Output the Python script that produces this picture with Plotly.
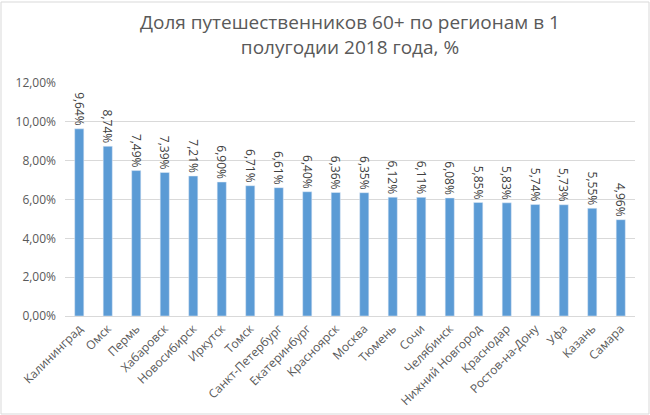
import plotly.graph_objects as go

regions = ['Калининград', 'Омск', 'Пермь', 'Хабаровск', 'Новосибирск', 'Иркутск', 'Томск',
           'Санкт-Петербург', 'Екатеринбург', 'Красноярск', 'Москва', 'Тюмень', 'Сочи',
           'Челябинск', 'Нижний Новгород', 'Краснодар', 'Ростов-на-Дону', 'Уфа', 'Казань', 'Самара']
shares = [0.0964, 0.0874, 0.0749, 0.0739, 0.0721, 0.0690, 0.0671, 0.0661, 0.0640, 0.0636,
          0.0635, 0.0612, 0.0611, 0.0608, 0.0585, 0.0583, 0.0574, 0.0573, 0.0555, 0.0496]
y_ticks = [0, 0.02, 0.04, 0.06, 0.08, 0.10, 0.12]

W, H = 650, 415
ml, mr, mt, mb = 65, 15, 83, 99

fig = go.Figure(go.Bar(
    x=regions, y=shares,
    marker_color='#5b9bd5',
    width=0.32,
    texttemplate='%{y:.2%}',
    textposition='outside',
    textangle=90,
    constraintext='none',
    cliponaxis=False,
    textfont=dict(size=12, color='#404040'),
))

# light frame around the whole chart
pw, ph = W - ml - mr, H - mt - mb
fig.add_shape(type='rect', xref='paper', yref='paper',
              x0=-(ml - 1) / pw, x1=1 + (mr - 1) / pw,
              y0=-(mb - 1) / ph, y1=1 + (mt - 2) / ph,
              line=dict(color='#d9d9d9', width=1))

fig.update_layout(
    width=W, height=H,
    margin=dict(l=ml, r=mr, t=mt, b=mb, autoexpand=False),
    separators=', ',
    paper_bgcolor='white', plot_bgcolor='white',
    font=dict(family='Open Sans, sans-serif', color='#595959', size=12),
    title=dict(text='Доля путешественников 60+ по регионам в 1<br>полугодии 2018 года, %',
               x=0.5, xref='paper', y=0.93, yanchor='middle',
               font=dict(size=19, color='#595959')),
    showlegend=False,
)
fig.update_yaxes(range=[0, 0.12], tickvals=y_ticks, tickformat='.2%',
                 showgrid=True, gridcolor='#d9d9d9', zeroline=False,
                 showline=False, ticks='', ticklabelstandoff=8, automargin=False,
                 tickfont=dict(size=12))
fig.update_xaxes(tickangle=-45, showline=True, linecolor='#d9d9d9', ticks='',
                 automargin=False, tickfont=dict(size=12))

fig.write_html('out.html', config={'displayModeBar': False},
               post_script="document.body.style.margin='0';")
